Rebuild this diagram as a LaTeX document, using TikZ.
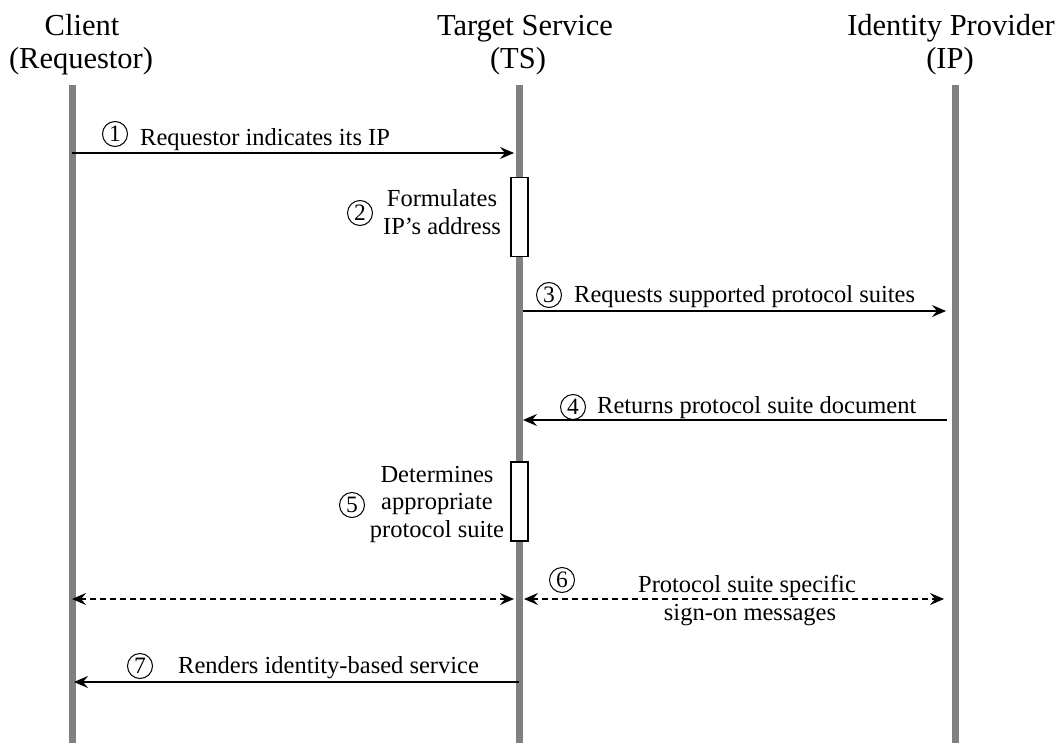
\documentclass[tikz,border=0pt]{standalone}
\usepackage{fontspec}
\setmainfont{Liberation Serif}
\usetikzlibrary{arrows.meta}
\definecolor{lifegray}{RGB}{128,128,128}
\begin{document}
\begin{tikzpicture}[x=1pt,y=-1pt,
  life/.style={draw=lifegray, line width=7pt},
  tipx/.tip={Stealth[length=14pt,width=12pt,inset=5pt]},
  msg/.style={line width=1.4pt, -tipx},
  dmsg/.style={line width=1.4pt, tipx-tipx, dash pattern=on 6pt off 4pt},
  hdr/.style={font=\fontsize{30.5}{33}\selectfont, inner sep=0pt, anchor=base},
  lbl/.style={font=\fontsize{24.5}{28}\selectfont, inner sep=0pt, anchor=base},
  num/.style={circle, draw, line width=1pt, minimum size=25pt, inner sep=0pt, font=\fontsize{23.5}{23.5}\selectfont},
  act/.style={draw, line width=1.2pt, fill=white, minimum width=17pt, minimum height=79pt, inner sep=0pt}]
\useasboundingbox (0,0) rectangle (1059,743);

% headers
\node[hdr] (hc1) at (82,36) {Client};
\node[hdr] (hc2) at (81,69) {(Requestor)};
\node[hdr] (ht1) at (525,36) {Target Service};
\node[hdr] (ht2) at (518,69) {(TS)};
\node[hdr] (hi1) at (951,36) {Identity Provider};
\node[hdr] (hi2) at (950,69) {(IP)};

% lifelines
\coordinate (Ct) at (72,85);  \coordinate (Cb) at (72,743);
\coordinate (Tt) at (519,85); \coordinate (Tb) at (519,743);
\coordinate (It) at (955,85); \coordinate (Ib) at (955,743);
\draw[life] (Ct) -- (Cb);
\draw[life] (Tt) -- (Tb);
\draw[life] (It) -- (Ib);

% activation boxes
\node[act] (b1) at (519.5,217) {};
\node[act] (b2) at (519.5,501.5) {};

% message 1
\coordinate (m1a) at (72,153); \coordinate (m1b) at (514,153);
\draw[msg] (m1a) -- (m1b);
\node[num] (n1) at (115,134) {1};
\node[lbl, anchor=base west] (t1) at (140,146) {Requestor indicates its IP};

% step 2
\node[num] (n2) at (360,213) {2};
\node[lbl] (t2a) at (442,207) {Formulates};
\node[lbl] (t2b) at (442,235) {IP’s address};

% message 3
\coordinate (m3a) at (523,311); \coordinate (m3b) at (946,311);
\draw[msg] (m3a) -- (m3b);
\node[num] (n3) at (549,295) {3};
\node[lbl, anchor=base west] (t3) at (574,302) {Requests supported protocol suites};

% message 4
\coordinate (m4a) at (947,420); \coordinate (m4b) at (523,420);
\draw[msg] (m4a) -- (m4b);
\node[num] (n4) at (573,407) {4};
\node[lbl, anchor=base west] (t4) at (597,413) {Returns protocol suite document};

% step 5
\node[num] (n5) at (352,505) {5};
\node[lbl] (t5a) at (437,482) {Determines};
\node[lbl] (t5b) at (437,509) {appropriate};
\node[lbl] (t5c) at (437,537) {protocol suite};

% message 6
\coordinate (m6a) at (72,599); \coordinate (m6b) at (514,599);
\coordinate (m6c) at (524,599); \coordinate (m6d) at (944,599);
\draw[dmsg] (m6a) -- (m6b);
\draw[dmsg] (m6c) -- (m6d);
\node[num] (n6) at (562,580) {6};
\node[lbl] (t6a) at (747,592) {Protocol suite specific};
\node[lbl] (t6b) at (750,620) {sign-on messages};

% message 7
\coordinate (m7a) at (519,682); \coordinate (m7b) at (74,682);
\draw[msg] (m7a) -- (m7b);
\node[num] (n7) at (140,666) {7};
\node[lbl, anchor=base west] (t7) at (178,673) {Renders identity-based service};
\end{tikzpicture}
\end{document}
